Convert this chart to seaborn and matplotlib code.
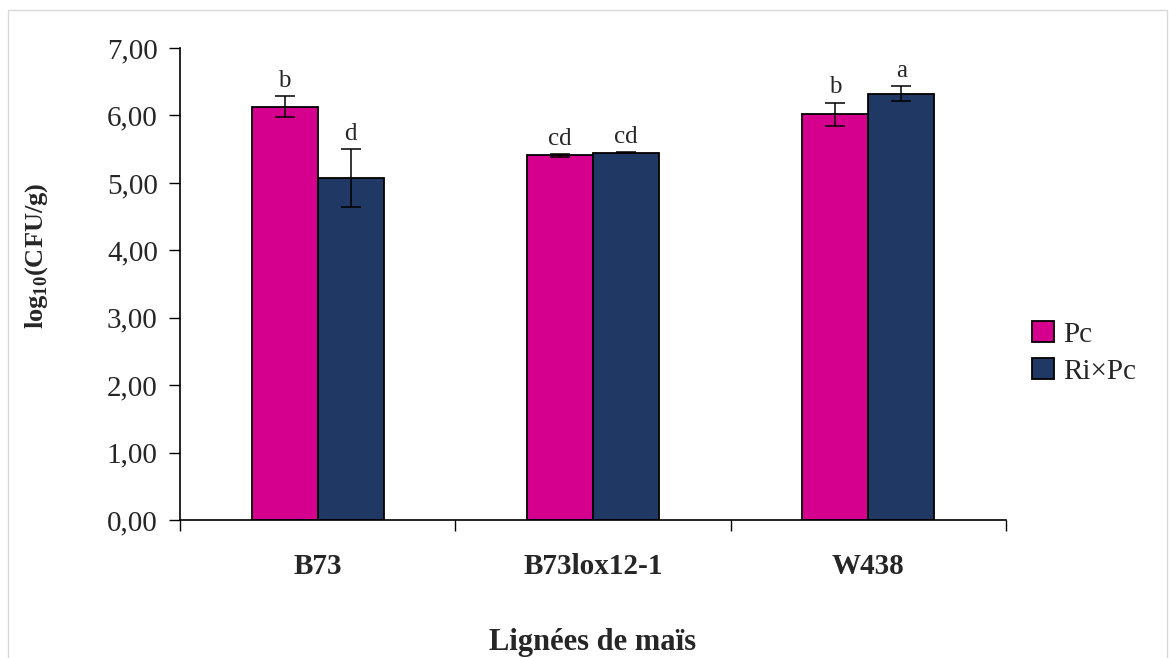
import pandas as pd
import matplotlib.pyplot as plt
import matplotlib.patches as mpatches
import seaborn as sns

## Data ##
lines = ['B73', 'B73lox12-1', 'W438']
treatments = ['Pc', 'Ri×Pc']
pc_mean = [6.13, 5.41, 6.02]
pc_err = [0.16, 0.02, 0.17]
ripc_mean = [5.07, 5.45, 6.32]
ripc_err = [0.43, 0.01, 0.11]
pc_letters = ['b', 'cd', 'b']
ripc_letters = ['d', 'cd', 'a']

data = pd.DataFrame({
    'Lignée': lines * 2,
    'Traitement': [treatments[0]] * 3 + [treatments[1]] * 3,
    'log': pc_mean + ripc_mean,
})
errors = [pc_err, ripc_err]
letters = [pc_letters, ripc_letters]

sns.set_style('white')
plt.rcParams['font.family'] = ['Liberation Serif', 'DejaVu Serif']
plt.rcParams['mathtext.fontset'] = 'custom'
plt.rcParams['mathtext.rm'] = 'Liberation Serif'
plt.rcParams['mathtext.bf'] = 'Liberation Serif:bold'

fig = plt.figure(figsize=(11.69, 6.58), dpi=100)
ax = fig.add_axes([0.154, 0.2097, 0.7066, 0.7173])

palette = {'Pc': '#d6008f', 'Ri×Pc': '#203864'}
sns.barplot(data=data, x='Lignée', y='log', hue='Traitement', palette=palette,
            width=0.48, errorbar=None, edgecolor='black', linewidth=1.3,
            saturation=1, ax=ax)

# error bars and significance letters
for cont, err, lets in zip(ax.containers, errors, letters):
    for bar, e, l in zip(cont, err, lets):
        xc = bar.get_x() + bar.get_width() / 2
        h = bar.get_height()
        ax.errorbar(xc, h, yerr=e, color='black', capsize=7, elinewidth=1.1,
                    capthick=1.1, fmt='none')
        ax.annotate(l, (xc, h + e), xytext=(0, 3), textcoords='offset points',
                    ha='center', va='bottom', fontsize=18)

ax.set_ylim(0, 7)
ax.set_xlim(-0.5, 2.5)
ax.set_yticks(range(8))
ax.set_yticklabels([f'{v},00' for v in range(8)], fontsize=21)
ax.set_xticks([0, 1, 2])
ax.set_xticklabels(lines, fontsize=21, fontweight='bold')
ax.set_xticks([-0.5, 0.5, 1.5, 2.5], minor=True)
ax.tick_params(axis='x', which='major', length=0, pad=24)
ax.tick_params(axis='x', which='minor', length=8, width=1, color='black', direction='out', bottom=True)
ax.tick_params(axis='y', length=8, width=1, color='black', direction='out', left=True, pad=8)

for s in ['top', 'right']:
    ax.spines[s].set_visible(False)
for s in ['left', 'bottom']:
    ax.spines[s].set_color('black')
    ax.spines[s].set_linewidth(1.2)

ax.set_ylabel('log$_{\\mathbf{10}}$(CFU/g)', fontsize=19, fontweight='bold')
ax.yaxis.set_label_coords(-0.157, 0.56)
ax.set_xlabel('Lignées de maïs', fontsize=22, fontweight='bold', labelpad=34)

leg = ax.legend(loc='center left', bbox_to_anchor=(1.0, 0.354), frameon=False,
                fontsize=21, handlelength=0.75, handleheight=0.75, labelspacing=0.35,
                handletextpad=0.3)

# light frame around the chart area
fig.patches.append(mpatches.Rectangle((8 / 1169, -0.01), 1159 / 1169, 1 - 10 / 658 + 0.01,
                                      transform=fig.transFigure, fill=False,
                                      edgecolor='#d9d9d9', linewidth=1))

plt.savefig('out.png', dpi=100)
